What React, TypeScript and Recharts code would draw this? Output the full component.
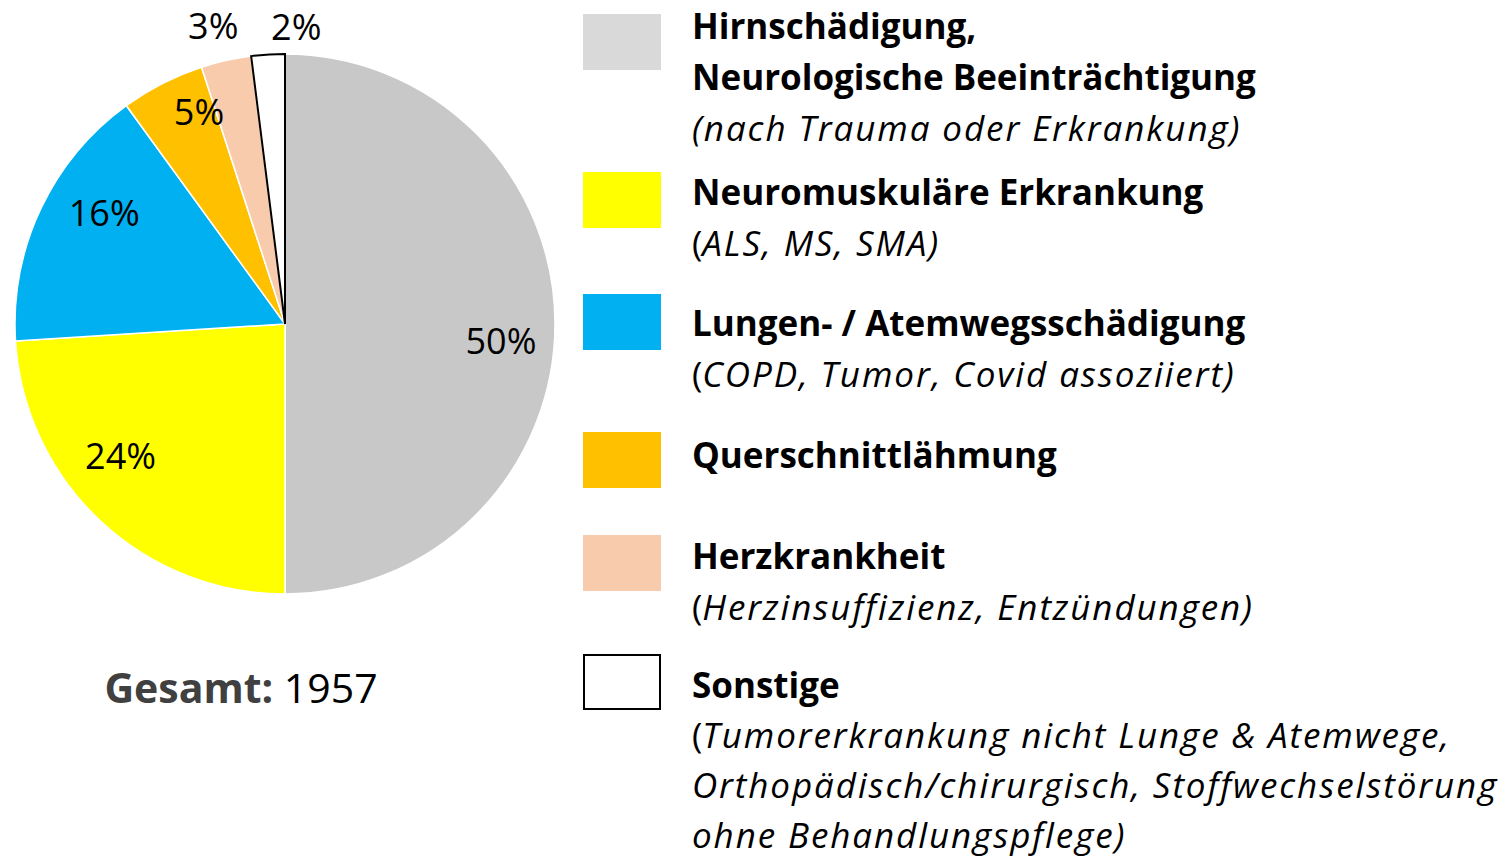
import React from 'react'
import { PieChart, Pie, Cell } from 'recharts'

const categories = [
  'Hirnschädigung, Neurologische Beeinträchtigung',
  'Neuromuskuläre Erkrankung',
  'Lungen- / Atemwegsschädigung',
  'Querschnittlähmung',
  'Herzkrankheit',
  'Sonstige',
]
const shares = [50, 24, 16, 5, 3, 2]
const total = 1957

const sliceColors = ['#C8C8C8', '#FFFF00', '#00B0F0', '#FFC000', '#F8CBAD', '#FFFFFF']
const legendColors = ['#D9D9D9', '#FFFF00', '#00B0F0', '#FFC000', '#F8CBAD', '#FFFFFF']

// label placement per slice (radius from centre + nudge)
const labelPlace = [
  { r: 216, dx: 0, dy: 16 },
  { r: 211, dx: -20, dy: -22 },
  { r: 212, dx: 11, dy: -21 },
  { r: 229, dx: 18, dy: -8 },
  { r: 306, dx: -5, dy: 0 },
  { r: 298, dx: 30, dy: 0 },
]

const FONT = '"Open Sans", Carlito, Calibri, sans-serif'
const RAD = Math.PI / 180

const renderLabel = (p: any) => {
  const pl = labelPlace[p.index]
  const x = p.cx + pl.r * Math.cos(-p.midAngle * RAD) + pl.dx
  const y = p.cy + pl.r * Math.sin(-p.midAngle * RAD) + pl.dy
  return (
    <text x={x} y={y} textAnchor="middle" dominantBaseline="central" fill="#000" fontSize={36} fontFamily={FONT}>
      {shares[p.index]}%
    </text>
  )
}

// Open Sans italic runs narrower than the original face, so widen it a bit
const I = ({ children }: { children: React.ReactNode }) => <i style={{ letterSpacing: '1.9px' }}>{children}</i>
const B = ({ children }: { children: React.ReactNode }) => <b>{children}</b>

// legend entries: square top, text top, line height, lines
const legendRows: { sq: number; tx: number; lh: number; lines: React.ReactNode[] }[] = [
  { sq: 14, tx: 0, lh: 51, lines: [<B>Hirnschädigung,</B>, <B>Neurologische Beeinträchtigung</B>, <I>(nach Trauma oder Erkrankung)</I>] },
  { sq: 172, tx: 166, lh: 51, lines: [<B>Neuromuskuläre Erkrankung</B>, <>(<I>ALS, MS, SMA)</I></>] },
  { sq: 294, tx: 297, lh: 51, lines: [<B>Lungen- / Atemwegsschädigung</B>, <>(<I>COPD, Tumor, Covid assoziiert)</I></>] },
  { sq: 432, tx: 429, lh: 51, lines: [<B>Querschnittlähmung</B>] },
  { sq: 535, tx: 530, lh: 51, lines: [<B>Herzkrankheit</B>, <>(<I>Herzinsuffizienz, Entzündungen)</I></>] },
  {
    sq: 654,
    tx: 660,
    lh: 50,
    lines: [
      <B>Sonstige</B>,
      <>(<I>Tumorerkrankung nicht Lunge &amp; Atemwege,</I></>,
      <I>Orthopädisch/chirurgisch, Stoffwechselstörung</I>,
      <I>ohne Behandlungspflege)</I>,
    ],
  },
]

export default function App() {
  const data = categories.map((name, i) => ({ name, value: shares[i] }))

  return (
    <div style={{ position: 'absolute', left: 0, top: 0, width: 1503, height: 857, background: '#fff', fontFamily: FONT, overflow: 'hidden' }}>
      <div style={{ position: 'absolute', left: 0, top: 0 }}>
        <PieChart width={570} height={640} margin={{ top: 0, right: 0, bottom: 0, left: 0 }}>
          <Pie
            data={data}
            dataKey="value"
            cx={285}
            cy={324}
            outerRadius={270}
            startAngle={90}
            endAngle={-270}
            label={renderLabel}
            labelLine={false}
            isAnimationActive={false}
          >
            {data.map((d, i) => (
              <Cell key={d.name} fill={sliceColors[i]} stroke={i === 5 ? '#000' : '#fff'} strokeWidth={i === 5 ? 2 : 1.5} />
            ))}
          </Pie>
        </PieChart>
      </div>

      <div style={{ position: 'absolute', left: 0, width: 482, top: 660, textAlign: 'center', fontSize: 41, lineHeight: '54px', whiteSpace: 'nowrap' }}>
        <b style={{ color: '#404040' }}>Gesamt:</b> {total}
      </div>

      {legendRows.map((row, i) => (
        <React.Fragment key={i}>
          <div
            style={{
              position: 'absolute',
              left: 583,
              top: row.sq,
              width: 78,
              height: 56,
              boxSizing: 'border-box',
              background: legendColors[i],
              border: i === 5 ? '2px solid #000' : 'none',
            }}
          />
          <div style={{ position: 'absolute', left: 692, top: row.tx, fontSize: 35, lineHeight: `${row.lh}px`, whiteSpace: 'nowrap', color: '#000' }}>
            {row.lines.map((l, j) => (
              <div key={j}>{l}</div>
            ))}
          </div>
        </React.Fragment>
      ))}
    </div>
  )
}
